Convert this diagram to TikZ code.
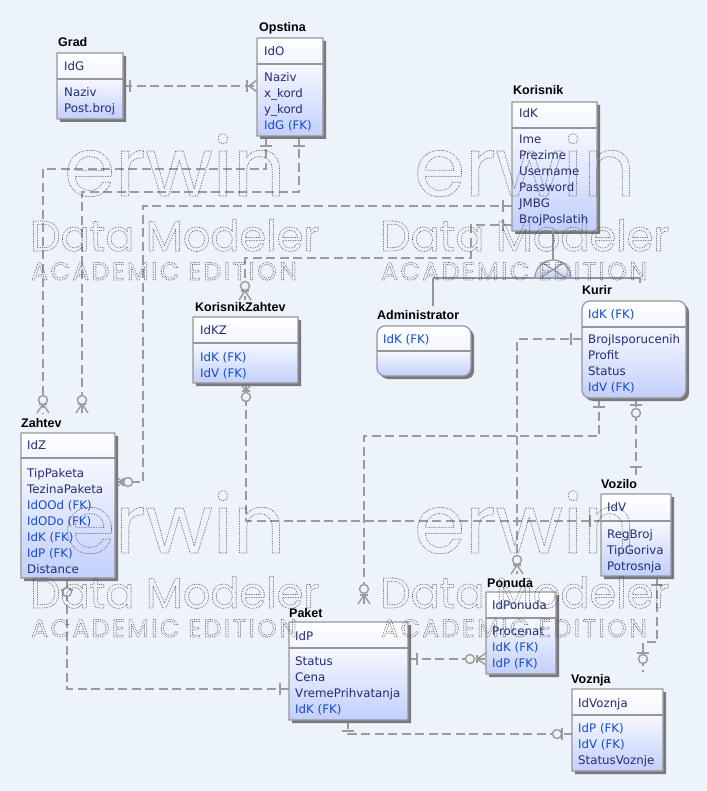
\documentclass[tikz,border=0pt]{standalone}
\usepackage{fontspec}
\setmainfont{Liberation Sans}
\newfontfamily\attfont{DejaVu Sans}
\newfontfamily\wmfont{Poppins}
\newfontfamily\wmfontsp{Poppins}[LetterSpace=10]
\definecolor{bgc}{RGB}{237,243,250}
\definecolor{bordc}{RGB}{150,150,150}
\definecolor{connc}{RGB}{155,155,155}
\definecolor{shadowc}{RGB}{120,120,125}
\definecolor{hdrc}{RGB}{242,245,255}
\definecolor{bodytop}{RGB}{246,248,255}
\definecolor{bodybot}{RGB}{194,207,252}
\definecolor{attc}{RGB}{35,45,115}
\definecolor{fkc}{RGB}{20,75,205}
\tikzset{
  conn/.style={draw=connc, line width=2.2pt, dash pattern=on 9pt off 4.5pt},
  mk/.style={draw=connc, line width=1.4pt, solid},
  sub/.style={draw=bordc, line width=1.2pt},
  lbl/.style={inner sep=0pt, anchor=base west, font=\fontsize{12.5}{14}\selectfont\bfseries, text=black},
  att/.style={inner sep=0pt, anchor=base west, font=\attfont\fontsize{11.8}{14}\selectfont, text=attc},
  fk/.style={att, text=fkc},
  wm/.style={inner sep=0pt, anchor=base west, text=black!70},
  pics/erbar/.style={code={\draw[mk] (#1,-6) -- (#1,6);}},
  pics/ercirc/.style={code={\draw[mk, fill=bgc] (#1,0) circle (4.5);}},
  pics/ercrow/.style={code={\draw[mk] (0,-6) -- (#1,0) -- (0,6); \draw[mk] (#1,-4) -- (#1,4);}},
  pics/erfoot/.style={code={\draw[mk] (0,-6) -- (#1,0) -- (0,6);}},
}
\newcommand\erent[7]{%
  \fill[shadowc, rounded corners=#7] (#2+3,#3+3) rectangle (#4+3,#5+3);
  \begin{scope}
    \clip[rounded corners=#7] (#2,#3) rectangle (#4,#5);
    \shade[top color=white, bottom color=hdrc] (#2,#3) rectangle (#4,#6);
    \shade[top color=bodytop, bottom color=bodybot] (#2,#6) rectangle (#4,#5);
  \end{scope}
  \draw[bordc, line width=1.2pt] (#2,#6) -- (#4,#6);
  \node[draw=bordc, line width=1.2pt, rounded corners=#7, inner sep=0pt, outer sep=0pt,
        minimum width={#4-#2}, minimum height={#5-#3}, anchor=north west] (#1) at (#2,#3) {};
}
\newcommand\wmtxt[1]{\special{pdf:literal direct 1 Tr 1 J 0.9 w [0 1.7] 0 d}#1\special{pdf:literal direct 0 Tr [] 0 d 0 J 0.4 w}}
\newcommand\wmark[3]{%
  \node[wm, font=\wmfont\fontsize{82}{82}\selectfont] (#3e) at (64+#1,196+#2) {\wmtxt{erwin}};
  \node[wm, font=\wmfont\fontsize{43}{43}\selectfont] (#3d) at (30+#1,251+#2) {\wmtxt{Data Modeler}};
  \node[wm, font=\wmfontsp\fontsize{25}{25}\selectfont] (#3a) at (31+#1,280+#2) {\wmtxt{ACADEMIC EDITION}};
}
\begin{document}
\begin{tikzpicture}[x=1pt,y=-1pt]
\useasboundingbox (0,0) rectangle (706,791);
\fill[bgc] (0,0) rectangle (706,791);

% ---------- connector end points ----------
\coordinate (g1) at (123,86);  \coordinate (o1) at (257,86);
\coordinate (o2) at (266,136); \coordinate (z1) at (43,413);
\coordinate (o3) at (299,136); \coordinate (z2) at (82,413);
\coordinate (k1) at (512,206); \coordinate (z3) at (115,482);
\coordinate (k2) at (512,225); \coordinate (kz1) at (245,300);
\coordinate (kz2) at (246,383); \coordinate (v1) at (601,521);
\coordinate (ku1) at (582,339); \coordinate (p1) at (517,574);
\coordinate (ku2) at (599,398); \coordinate (pk1) at (364,604);
\coordinate (ku3) at (636,398); \coordinate (v2) at (636,477);
\coordinate (v3) at (657,576); \coordinate (vz1) at (643,672);
\coordinate (z4) at (67,578);  \coordinate (pk2) at (289,689);
\coordinate (pk3) at (408,659); \coordinate (po1) at (486,659);
\coordinate (pk4) at (348,720); \coordinate (vz2) at (572,734);

% ---------- connectors ----------
\draw[conn] (g1) -- (o1);
\draw[conn] (o2) -- ++(0,33) -| (z1);
\draw[conn] (o3) -- ++(0,56) -| (z2);
\draw[conn] (k1) -- (143,206) |- (z3);
\draw[conn] (k2) -- (471,225) -- (471,258) -| (kz1);
\draw[conn] (kz2) |- (v1);
\draw[conn] (ku1) -| (p1);
\draw[conn] (ku2) -- ++(0,38) -| (pk1);
\draw[conn] (ku3) -- (v2);
\draw[conn] (v3) -- ++(0,66) -| (vz1);
\draw[conn] (z4) |- (pk2);
\draw[conn] (pk3) -- (po1);
\draw[conn] (pk4) |- (vz2);

% ---------- markers ----------
\pic[rotate=0] at (g1) {erbar=7};
\pic[rotate=180] at (o1) {erfoot=8};
\pic[rotate=180] at (o1) {erbar=10};
\pic[rotate=-90] at (o2) {erbar=10};
\pic[rotate=90] at (z1) {ercrow=9};
\pic[rotate=90] at (z1) {ercirc=13};
\pic[rotate=-90] at (o3) {erbar=10};
\pic[rotate=90] at (z2) {ercrow=9};
\pic[rotate=90] at (z2) {ercirc=13};
\pic[rotate=180] at (k1) {erbar=9};
\pic[rotate=0] at (z3) {ercrow=8};
\pic[rotate=0] at (z3) {ercirc=13};
\pic[rotate=180] at (k2) {erbar=9};
\pic[rotate=90] at (kz1) {ercrow=9};
\pic[rotate=90] at (kz1) {ercirc=14};
\pic[rotate=-90] at (kz2) {ercrow=8};
\pic[rotate=-90] at (kz2) {ercirc=14};
\pic[rotate=180] at (v1) {erbar=11};
\pic[rotate=180] at (ku1) {erbar=11};
\pic[rotate=90] at (p1) {ercrow=9};
\pic[rotate=90] at (p1) {ercirc=14};
\pic[rotate=-90] at (ku2) {erbar=9};
\pic[rotate=90] at (pk1) {ercrow=9};
\pic[rotate=90] at (pk1) {ercirc=15};
\pic[rotate=-90] at (ku3) {erbar=7};
\pic[rotate=-90] at (ku3) {ercirc=15};
\pic[rotate=90] at (v2) {erbar=10};
\pic[rotate=-90] at (v3) {erbar=9};
\pic[rotate=90] at (vz1) {erbar=19};
\pic[rotate=90] at (vz1) {ercirc=13};
\pic[rotate=-90] at (z4) {erbar=12};
\pic[rotate=-90] at (z4) {ercirc=14};
\pic[rotate=180] at (pk2) {erbar=9};
\pic[rotate=0] at (pk3) {erbar=9};
\pic[rotate=180] at (po1) {ercrow=9};
\pic[rotate=180] at (po1) {ercirc=16};
\pic[rotate=-90] at (pk4) {erbar=11};
\pic[rotate=180] at (vz2) {erbar=10};
\pic[rotate=180] at (vz2) {ercirc=15};

% ---------- entities ----------
\erent{grad}{57}{53}{123}{119}{79}{0.1pt}
\node[lbl] (grad-l) at (58,47) {Grad};
\node[att] (grad-k) at (64,70.5) {IdG};
\node[att] (grad-1) at (64,96.5) {Naziv};
\node[att] (grad-2) at (64,112.5) {Post.broj};

\erent{opstina}{257}{38}{323}{136}{64}{0.1pt}
\node[lbl] (ops-l) at (259,32) {Opstina};
\node[att] (ops-k) at (264,56) {IdO};
\node[att] (ops-1) at (264,82) {Naziv};
\node[att] (ops-2) at (264,98) {x\_kord};
\node[att] (ops-3) at (264,114) {y\_kord};
\node[fk] (ops-4) at (264,130) {IdG (FK)};

\erent{korisnik}{512}{102}{597}{231}{128}{0.1pt}
\node[lbl] (kor-l) at (513,95) {Korisnik};
\node[att] (kor-k) at (519,118) {IdK};
\node[att] (kor-1) at (519,144) {Ime};
\node[att] (kor-2) at (519,160) {Prezime};
\node[att] (kor-3) at (519,176) {Username};
\node[att] (kor-4) at (519,192) {Password};
\node[att] (kor-5) at (519,208) {JMBG};
\node[att] (kor-6) at (519,224) {BrojPoslatih};

\erent{admin}{377}{326}{471}{376}{351}{8pt}
\node[lbl] (adm-l) at (377,319) {Administrator};
\node[fk] (adm-k) at (383,343) {IdK (FK)};

\erent{kurir}{582}{301}{686}{398}{327}{8pt}
\node[lbl] (kur-l) at (582,294) {Kurir};
\node[fk] (kur-k) at (588,318) {IdK (FK)};
\node[att] (kur-1) at (588,343) {BrojIsporucenih};
\node[att] (kur-2) at (588,359) {Profit};
\node[att] (kur-3) at (588,375) {Status};
\node[fk] (kur-4) at (588,391) {IdV (FK)};

\erent{kz}{193}{317}{298}{383}{343}{0.1pt}
\node[lbl] (kz-l) at (195,311) {KorisnikZahtev};
\node[att] (kz-k) at (200,334) {IdKZ};
\node[fk] (kz-1) at (200,361) {IdK (FK)};
\node[fk] (kz-2) at (200,377) {IdV (FK)};

\erent{zahtev}{21}{433}{115}{578}{458}{0.1pt}
\node[lbl] (zah-l) at (21,427) {Zahtev};
\node[att] (zah-k) at (27,449) {IdZ};
\node[att] (zah-1) at (27,477) {TipPaketa};
\node[att] (zah-2) at (27,493) {TezinaPaketa};
\node[fk] (zah-3) at (27,509) {IdOOd (FK)};
\node[fk] (zah-4) at (27,525) {IdODo (FK)};
\node[fk] (zah-5) at (27,541) {IdK (FK)};
\node[fk] (zah-6) at (27,557) {IdP (FK)};
\node[att] (zah-7) at (27,573) {Distance};

\erent{vozilo}{601}{494}{671}{576}{521}{0.1pt}
\node[lbl] (voz-l) at (601,488) {Vozilo};
\node[att] (voz-k) at (607,511) {IdV};
\node[att] (voz-1) at (607,538) {RegBroj};
\node[att] (voz-2) at (607,554) {TipGoriva};
\node[att] (voz-3) at (607,570) {Potrosnja};

\erent{ponuda}{486}{592}{556}{674}{618}{0.1pt}
\node[lbl] (pon-l) at (487,587) {Ponuda};
\node[att] (pon-k) at (492,609) {IdPonuda};
\node[att] (pon-1) at (492,635) {Procenat};
\node[fk] (pon-2) at (492,651) {IdK (FK)};
\node[fk] (pon-3) at (492,667) {IdP (FK)};

\erent{paket}{289}{622}{408}{720}{648}{0.1pt}
\node[lbl] (pak-l) at (289,617) {Paket};
\node[att] (pak-k) at (295,640) {IdP};
\node[att] (pak-1) at (295,665) {Status};
\node[att] (pak-2) at (295,681) {Cena};
\node[att] (pak-3) at (295,697) {VremePrihvatanja};
\node[fk] (pak-4) at (295,713) {IdK (FK)};

\erent{voznja}{572}{689}{663}{771}{715}{0.1pt}
\node[lbl] (vzn-l) at (571,683) {Voznja};
\node[att] (vzn-k) at (578,707) {IdVoznja};
\node[fk] (vzn-1) at (578,732) {IdP (FK)};
\node[fk] (vzn-2) at (578,748) {IdV (FK)};
\node[att] (vzn-3) at (578,764) {StatusVoznje};

% ---------- subtype ----------
\coordinate (sk) at (553,231);
\coordinate (stop) at (553,260);
\coordinate (sl) at (433,278);
\coordinate (sr) at (640,278);
\coordinate (sadm) at (433,306);
\coordinate (skur) at (640,283);
\draw[sub] (sk) -- (stop);
\draw[sub] (sl) -- (sr);
\draw[sub] (sl) -- (sadm);
\draw[sub] (sr) -- (skur);
\shade[top color=white, bottom color=bodybot] (535,278) arc[start angle=180, end angle=360, radius=18] -- cycle;
\begin{scope}
  \clip (535,278) arc[start angle=180, end angle=360, radius=18] -- cycle;
  \draw[sub] (537,280) -- (571,258);
  \draw[sub] (569,280) -- (535,258);
\end{scope}
\draw[sub] (535,278) arc[start angle=180, end angle=360, radius=18] -- cycle;

% ---------- watermark ----------
\wmark{0}{0}{wa}
\wmark{350}{0}{wb}
\wmark{0}{357}{wc}
\wmark{350}{357}{wd}
\end{tikzpicture}
\end{document}
